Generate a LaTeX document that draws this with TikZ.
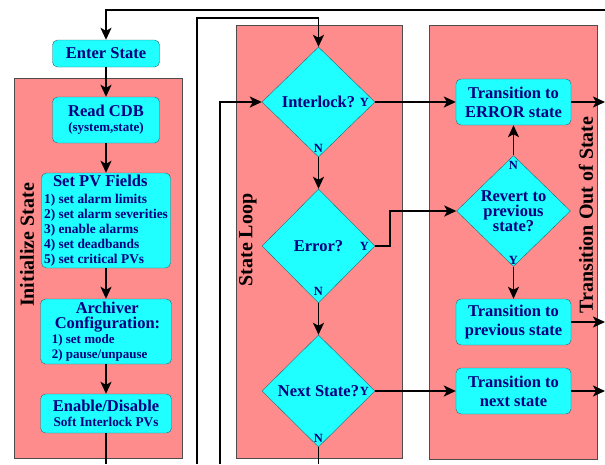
\documentclass[tikz,border=0pt]{standalone}
\usepackage{fontspec}
\setmainfont{Liberation Serif}
\usetikzlibrary{shapes.geometric,arrows.meta}
\definecolor{boxcyan}{RGB}{32,255,255}
\definecolor{panelred}{RGB}{255,140,140}
\definecolor{textblue}{RGB}{0,0,128}
\definecolor{boxedge}{RGB}{40,100,110}
\newcommand{\txtsize}[2]{\fontsize{#1}{#2}\selectfont}

\begin{document}
\begin{tikzpicture}[
    x=1pt, y=-1pt,
    panel/.style={draw=black!70, fill=panelred, line width=0.8pt},
    paneltitle/.style={font=\bfseries\txtsize{20}{22}, rotate=90},
    block/.style={rectangle, draw=boxedge, fill=boxcyan, text=textblue, font=\bfseries\txtsize{16.5}{15}, rounded corners=5pt, align=center, inner sep=1pt},
    decision/.style={diamond, draw=boxedge, fill=boxcyan, text=textblue, font=\bfseries\txtsize{16.5}{15}, align=center, inner sep=0pt, minimum width=113pt, minimum height=110pt},
    yn/.style={text=textblue, font=\bfseries\txtsize{12.5}{12}, inner sep=0pt},
    arrow/.style={line width=1.9pt, -{Stealth[length=12pt,width=11pt,inset=3pt]}},
    wire/.style={line width=1.9pt}
]
    \useasboundingbox (0,0) rectangle (605,464);

    % the three stages
    \path [panel] (14,78) rectangle (182,458);
    \path [panel] (236,25) rectangle (402,458);
    \path [panel] (429,25) rectangle (597,459);
    \node (initlabel) [paneltitle] at (27,245) {Initialize State};
    \node (looplabel) [paneltitle] at (248,240) {State Loop};
    \node (outlabel) [paneltitle] at (586,215) {Transition Out of State};

    % initialize
    \node (enter) [block, minimum width=107pt, minimum height=27pt] at (106,53.5) {Enter State};
    \node (readcdb) [block, minimum width=107pt, minimum height=46pt] at (106,120) {Read CDB\\{\txtsize{13}{15}(system,state)}};
    \node (setpv) [block, align=left, font=\bfseries\txtsize{13.4}{15}, minimum width=129pt, minimum height=95pt] at (106,220.5)
        {\hspace{9pt}{\txtsize{16.5}{15}Set PV Fields}\\[2pt]1) set alarm limits\\2) set alarm severities\\3) enable alarms\\4) set deadbands\\5) set critical PVs};
    \node (archiver) [block, align=left, font=\bfseries\txtsize{13}{15}, minimum width=131pt, minimum height=65pt] at (106,331.5)
        {\hspace{24pt}{\txtsize{16.5}{15}Archiver}\\\hspace{3pt}{\txtsize{16.5}{15}Configuration:}\\1) set mode\\2) pause/unpause};
    \node (enable) [block, minimum width=131pt, minimum height=39pt] at (106,413.5) {Enable/Disable\\{\txtsize{13.3}{15}Soft Interlock PVs}};

    % state loop
    \node (interlock) [decision] at (318.5,102) {Interlock?};
    \node (error) [decision, minimum height=114pt] at (318.5,246) {Error?};
    \node (nextst) [decision, minimum height=112pt] at (318.5,391) {Next State?};

    % transitions
    \node (errstate) [block, font=\bfseries\txtsize{16.5}{19}, minimum width=115pt, minimum height=46pt] at (513.5,102) {Transition to\\ERROR state};
    \node (revert) [decision, minimum width=114pt, minimum height=111pt] at (513.5,211) {Revert to\\previous\\state?};
    \node (prevstate) [block, font=\bfseries\txtsize{16.5}{19}, minimum width=115pt, minimum height=46pt] at (513.5,322) {Transition to\\previous state};
    \node (nextstate) [block, font=\bfseries\txtsize{16.5}{19}, minimum width=115pt, minimum height=46pt] at (513.5,391) {Transition to\\next state};

    % Y / N marks
    \node (ilky) [yn, left=6pt] at (interlock.east) {Y};
    \node (ilkn) [yn, above=5pt] at (interlock.south) {N};
    \node (erry) [yn, left=6pt] at (error.east) {Y};
    \node (errn) [yn, above=8pt] at (error.south) {N};
    \node (nxty) [yn, left=6pt] at (nextst.east) {Y};
    \node (nxtn) [yn, above=5pt] at (nextst.south) {N};
    \node (revn) [yn, below=6pt] at (revert.north) {N};
    \node (revy) [yn, above=2pt] at (revert.south) {Y};

    % free ends
    \coordinate (topfeed) at (605,10);
    \coordinate (feedA) at (197,464);
    \coordinate (bendA) at (197,18);
    \coordinate (feedB) at (220,464);
    \coordinate (initout) at (106,464);
    \coordinate (loopout) at (318.5,464);
    \coordinate (errbend) at (390,246);
    \coordinate (outerr) at (605,102);
    \coordinate (outprev) at (605,322);
    \coordinate (outnext) at (605,391);

    \draw [arrow] (topfeed) -| (enter);
    \draw [arrow] (enter) -- (readcdb);
    \draw [arrow] (readcdb) -- (setpv);
    \draw [arrow] (setpv) -- (archiver);
    \draw [arrow] (archiver) -- (enable);
    \draw [wire] (enable) -- (initout);

    \draw [arrow] (feedA) -- (bendA) -| (interlock);
    \draw [arrow] (feedB) |- (interlock);
    \draw [arrow] (interlock) -- (errstate);
    \draw [arrow] (interlock) -- (error);
    \draw [arrow] (error.east) -- (errbend) |- (revert);
    \draw [arrow] (error) -- (nextst);
    \draw [wire] (nextst) -- (loopout);
    \draw [arrow] (nextst) -- (nextstate);

    \draw [arrow] (revert) -- (errstate);
    \draw [arrow] (revert) -- (prevstate);
    \draw [arrow] (errstate) -- (outerr);
    \draw [arrow] (prevstate) -- (outprev);
    \draw [arrow] (nextstate) -- (outnext);
\end{tikzpicture}
\end{document}
